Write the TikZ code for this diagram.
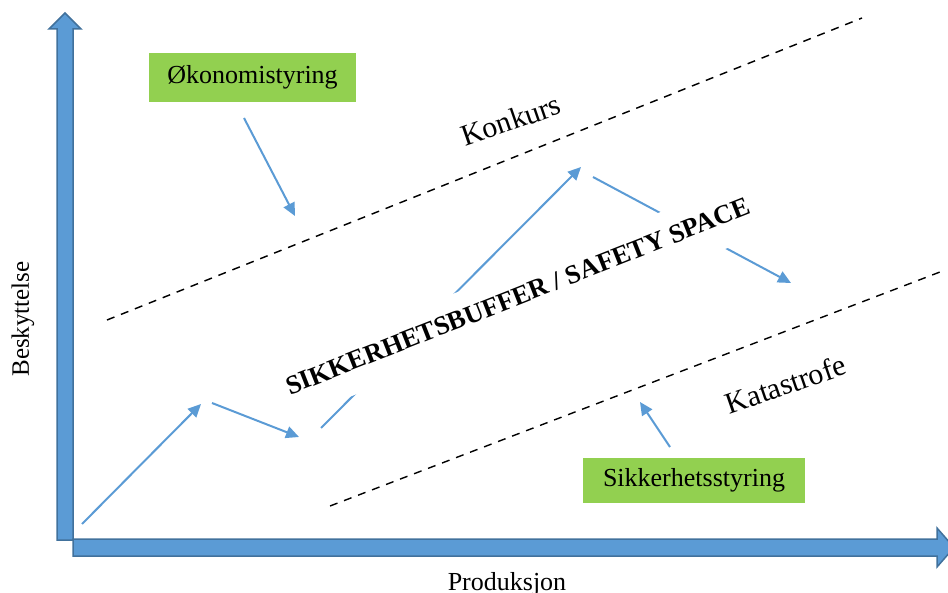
\documentclass[tikz,border=0pt]{standalone}
\usepackage{fontspec}
\setmainfont{Liberation Serif}
\usetikzlibrary{arrows.meta}
\definecolor{axisblue}{HTML}{5B9BD5}
\definecolor{axisedge}{HTML}{41719C}
\definecolor{boxgreen}{HTML}{92D050}
\begin{document}
\begin{tikzpicture}[x=1pt,y=-1pt,
  axisbar/.style={fill=axisblue, draw=axisedge, line width=1.5pt, line join=miter},
  limit/.style={draw=black, line width=1.4pt, dash pattern=on 8pt off 7pt},
  flow/.style={draw=axisblue, line width=2pt, -{Triangle[length=13pt,width=12pt]}},
  tag/.style={fill=boxgreen, inner sep=0pt, font=\fontsize{26}{30}\selectfont},
  zone/.style={font=\fontsize{30}{34}\selectfont, rotate=19, anchor=base},
  axislabel/.style={font=\fontsize{25}{28}\selectfont},
  ]
\useasboundingbox (0,0) rectangle (948,593);

% axes drawn as block arrows
\draw[axisbar] (57,540) -- (57,29) -- (49,29) -- (65,13) -- (81,29) -- (73,29) -- (73,540) -- cycle;
\draw[axisbar] (73,539) -- (937,539) -- (937,528) -- (954,547.5) -- (937,567) -- (937,556) -- (73,556) -- cycle;

\node[axislabel, rotate=90] (ylab) at (23,319) {Beskyttelse};
\node[axislabel, anchor=base, font=\fontsize{26}{28}\selectfont] (xlab) at (507,590) {Produksjon};

% boundaries of the safety space
\coordinate (up1) at (107,320);
\coordinate (up2) at (862,18);
\coordinate (lo1) at (330,506);
\coordinate (lo2) at (940,272);
\draw[limit] (up1) -- (up2);
\draw[limit] (lo1) -- (lo2);

\node[zone] (konkurs) at (514,130) {Konkurs};
\node[zone] (katastrofe) at (789,394) {Katastrofe};

% steering boxes
\node[tag, minimum width=207pt, minimum height=49pt] (econ) at (252.5,77.5) {Økonomistyring};
\node[tag, minimum width=222pt, minimum height=45pt] (safe) at (694,480.5) {Sikkerhetsstyring};

% path of the operation
\coordinate (e1) at (244,118);
\coordinate (e2) at (295,216);
\coordinate (p0) at (82,524);
\coordinate (p1) at (201,404);
\coordinate (p2) at (212,403);
\coordinate (p3) at (299,437);
\coordinate (p4) at (321,428);
\coordinate (p5) at (581,167);
\coordinate (p6) at (593,177);
\coordinate (p7) at (791,283);
\coordinate (s1) at (670,447);
\coordinate (s2) at (640,402);

\draw[flow] (e1) -- (e2);
\draw[flow] (p0) -- (p1);
\draw[flow] (p2) -- (p3);
\draw[flow] (p4) -- (p5);
\draw[flow] (p6) -- (p7);
\draw[flow] (s1) -- (s2);

\node[font=\bfseries\fontsize{26.5}{30}\selectfont, fill=white, rotate=21.5,
      text height=17pt, text depth=5.8pt, inner xsep=2pt, inner ysep=17.6pt]
  (buffer) at (519,299) {SIKKERHETSBUFFER / SAFETY SPACE};
\end{tikzpicture}
\end{document}
